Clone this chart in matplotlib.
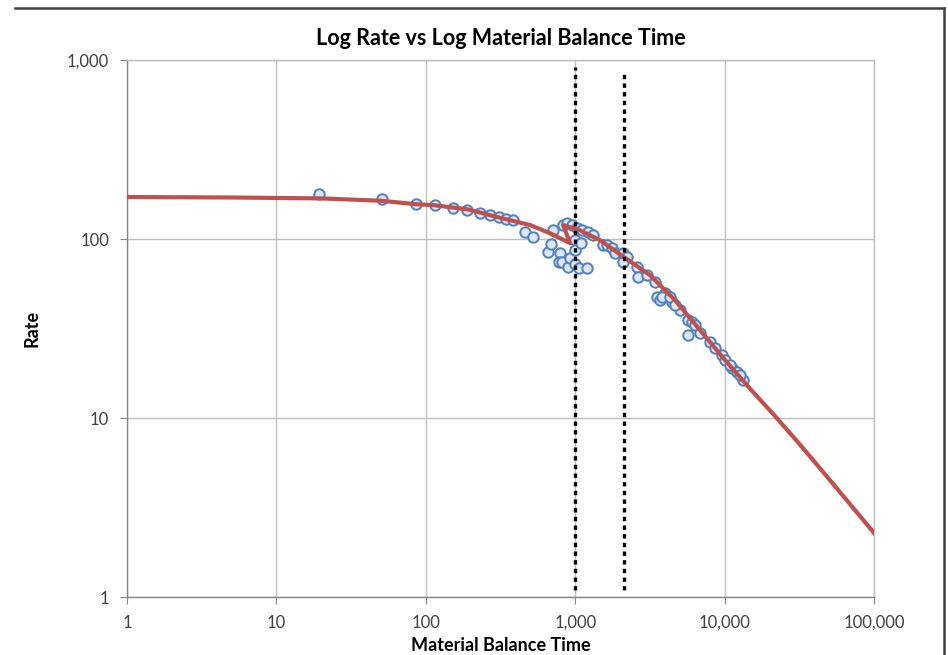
import numpy as np
import matplotlib
matplotlib.use("Agg")
import matplotlib.pyplot as plt
from matplotlib.lines import Line2D
from matplotlib.ticker import FuncFormatter, NullLocator

plt.rcParams['font.family'] = ['Lato', 'DejaVu Sans']

# measured points (material balance time, rate)
mbt = [19.3, 51, 86, 115, 152, 189, 231, 269, 309, 344, 383, 461, 522,
       658, 689, 710, 791, 779, 816, 895, 923, 829, 881, 952, 1000, 1000,
       1000, 1028, 1060, 1104, 1200, 1220, 1315, 1085, 1535, 1633, 1763,
       1847, 2089, 2222, 2089, 2594, 2632, 3025, 3422, 3530, 3698, 3991,
       4447, 5027, 5685, 6050, 5685, 6340, 6845, 7985, 8630, 9610, 10070,
       11220, 12110, 13280, 12700, 3810, 4310, 4655, 10860]
rate = [180, 167, 157, 155, 149, 145, 140, 136, 133, 130, 128, 109, 103,
        85, 94, 112, 84, 74.5, 74.5, 70, 78, 120, 123, 120, 99, 87,
        72.5, 115, 69, 112, 69, 109, 105, 95, 92.5, 92.5, 89,
        83.5, 83.5, 79.3, 74.4, 69.8, 61.3, 62.9, 57.5, 47.4, 45.6, 49.9,
        44.5, 40.1, 35.3, 34.4, 29.1, 33.1, 29.9, 26.6, 24.6, 22.5, 21.1,
        19.0, 18.1, 16.3, 17.4, 47.4, 47.4, 42.8, 19.8]

# fitted decline curve
fit_t = [1, 5, 20, 50, 85, 112, 189, 300, 498, 678, 923, 830, 1077, 1466,
         2122, 3170, 4655, 6845, 10070, 14790, 21440, 31990, 50700, 100000]
fit_q = [172, 171, 169, 164, 157, 155, 147, 133, 120, 108, 95, 120, 112, 98.7,
         79.3, 62.9, 45.6, 31, 21.1, 14.6, 10.4, 7.1, 4.5, 2.28]

# vertical marker lines
vline_x = [1000, 2122]
vline_top = [920, 870]

fig = plt.figure(figsize=(9.48, 6.55), dpi=100)
ax = fig.add_axes([0.134, 0.0885, 0.788, 0.8195])

ax.plot(mbt, rate, 'o', ms=7.5, mfc='#DCE6F4', mec='#4F81BD', mew=1.4, zorder=3)
ax.plot(fit_t, fit_q, '-', color='#C0504D', lw=3, zorder=4)
for x, top in zip(vline_x, vline_top):
    ax.plot([x, x], [1.09, top], color='black', lw=2.4, ls=(0, (1.3, 1.3)), zorder=5)

ax.set_xscale('log')
ax.set_yscale('log')
ax.set_xlim(1, 100000)
ax.set_ylim(1, 1000)
fmt = FuncFormatter(lambda v, p: f'{v:,.0f}')
ax.xaxis.set_major_formatter(fmt)
ax.yaxis.set_major_formatter(fmt)
ax.xaxis.set_minor_locator(NullLocator())
ax.yaxis.set_minor_locator(NullLocator())
ax.grid(True, color='#BEBEBE', lw=1)
ax.set_axisbelow(True)
for s in ax.spines.values():
    s.set_color('#BEBEBE')
    s.set_linewidth(1)
ax.spines['left'].set_color('#868686')
ax.spines['bottom'].set_color('#868686')
ax.tick_params(length=5, color='#868686', labelsize=12, labelcolor='#404040', pad=8)

ax.set_title('Log Rate vs Log Material Balance Time', fontsize=15.5,
             fontweight='bold', pad=11)
ax.set_xlabel('Material Balance Time', fontsize=13, fontweight='bold')
ax.xaxis.set_label_coords(0.5, -0.075)
ax.set_ylabel('Rate', fontsize=13, fontweight='bold')
ax.yaxis.set_label_coords(-0.116, 0.5)

# outer frame (top and right only visible)
fig.add_artist(Line2D([0.016, 0.996], [0.988, 0.988], color='#404040', lw=1.8))
fig.add_artist(Line2D([0.996, 0.996], [0.0, 0.988], color='#404040', lw=1.8))

fig.savefig('out.png', dpi=100)
